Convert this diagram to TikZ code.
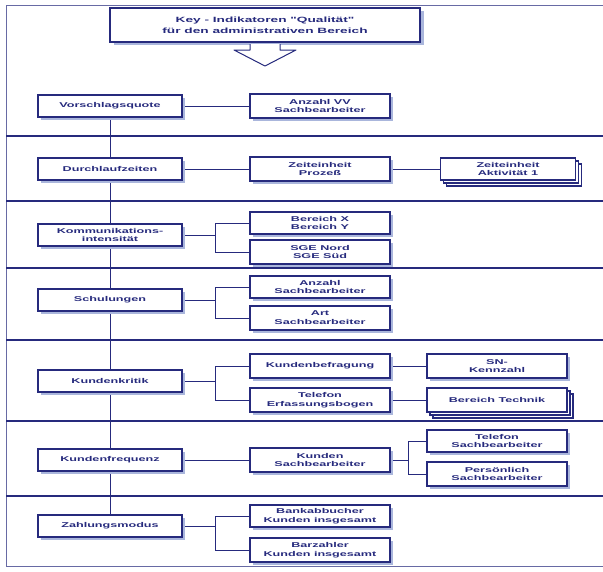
\documentclass[tikz,border=0pt]{standalone}
\usepackage{fontspec}
\setmainfont{Liberation Sans}
\newfontfamily\widefont[FakeStretch=1.8]{Liberation Sans}
\usetikzlibrary{shadows,backgrounds}
\definecolor{navy}{RGB}{38,42,125}
\definecolor{shade}{RGB}{170,182,220}
\tikzset{
  box/.style={draw=navy, line width=1.2pt, fill=white, text=navy,
    font=\widefont\bfseries\fontsize{7}{8.8}\selectfont, align=center,
    minimum width=140pt, minimum height=22pt, inner sep=1pt,
    drop shadow={shadow xshift=3pt, shadow yshift=-3pt, fill=shade, opacity=1}},
  leftbox/.style={box, minimum width=144pt},
  stackbox/.style={draw=navy, line width=1.2pt, fill=white, text=navy,
    font=\widefont\bfseries\fontsize{7}{8.8}\selectfont, align=center,
    minimum width=135pt, minimum height=22pt, inner sep=1pt,
    double copy shadow={shadow xshift=3pt, shadow yshift=-3pt}},
  titlebox/.style={draw=navy, line width=1.2pt, fill=white, text=navy,
    font=\widefont\bfseries\fontsize{7.6}{11}\selectfont, align=center,
    minimum width=310pt, minimum height=34pt, inner sep=1pt,
    drop shadow={shadow xshift=4pt, shadow yshift=-3pt, fill=shade, opacity=1}},
  sep/.style={navy, line width=1.6pt},
  frame/.style={navy!70, line width=0.9pt},
  link/.style={navy, line width=1pt},
  spine/.style={navy, line width=1pt}
}
\begin{document}
\begin{tikzpicture}[x=1pt,y=-1pt]
\useasboundingbox (0,0) rectangle (603,571);

% outer frame and row separators
\draw[frame] (603,5) -- (6,5) -- (6,566) -- (603,566);
\foreach \yy in {136,201,268,340,421,496}
  \draw[sep] (6,\yy) -- (603,\yy);

% heading and arrow
\node[titlebox] (title) at (265,25) {Key - Indikatoren "Qualität"\\für den administrativen Bereich};
\draw[navy, line width=1pt, fill=white, line join=round]
  (250,44) -- (250,50) -- (234,50) -- (265,66) -- (296,50) -- (280,50) -- (280,44);

% branch columns
\coordinate (brA) at (215,0);
\coordinate (brB) at (408,0);

% left column
\node[leftbox] (vq) at (110,106) {Vorschlagsquote};
\node[leftbox] (dl) at (110,169) {Durchlaufzeiten};
\node[leftbox] (ki) at (110,235) {Kommunikations-\\intensität};
\node[leftbox] (sc) at (110,300) {Schulungen};
\node[leftbox] (kk) at (110,381) {Kundenkritik};
\node[leftbox] (kf) at (110,460) {Kundenfrequenz};
\node[leftbox] (zm) at (110,526) {Zahlungsmodus};

% middle column
\node[box, minimum height=24pt] (av) at (320,106) {Anzahl VV\\Sachbearbeiter};
\node[box, minimum height=24pt] (zp) at (320,169) {Zeiteinheit\\Prozeß};
\node[box] (bx) at (320,223) {Bereich X\\Bereich Y};
\node[box, minimum height=24pt] (sg) at (320,252) {SGE Nord\\SGE Süd};
\node[box] (as) at (320,287) {Anzahl\\Sachbearbeiter};
\node[box, minimum height=24pt] (ar) at (320,318) {Art\\Sachbearbeiter};
\node[box, minimum height=24pt] (kb) at (320,366) {Kundenbefragung};
\node[box, minimum height=24pt] (tf) at (320,400) {Telefon\\Erfassungsbogen};
\node[box, minimum height=24pt] (ks) at (320,460) {Kunden\\Sachbearbeiter};
\node[box] (bb) at (320,516) {Bankabbucher\\Kunden insgesamt};
\node[box, minimum height=24pt] (bz) at (320,550) {Barzahler\\Kunden insgesamt};

% right column
\node[stackbox] (za) at (508,169) {Zeiteinheit\\Aktivität 1};
\node[box, minimum height=24pt] (sn) at (497,366) {SN-\\Kennzahl};
\node[stackbox, minimum width=140pt, minimum height=24pt] (bt) at (497,400) {Bereich Technik};
\node[box] (ts) at (497,441) {Telefon\\Sachbearbeiter};
\node[box, minimum height=24pt] (ps) at (497,474) {Persönlich\\Sachbearbeiter};

% connectors
\begin{scope}[on background layer]
  \draw[spine] (vq.south) -- (zm.north);
  \draw[link] (vq.east) -- (av.west);
  \draw[link] (dl.east) -- (zp.west);
  \draw[link] (zp.east) -- (za.west);
  \draw[link] (ki.east) -- (ki.east -| brA);
  \draw[link] (bx.west) -| (brA |- sg.west) -- (sg.west);
  \draw[link] (sc.east) -- (sc.east -| brA);
  \draw[link] (as.west) -| (brA |- ar.west) -- (ar.west);
  \draw[link] (kk.east) -- (kk.east -| brA);
  \draw[link] (kb.west) -| (brA |- tf.west) -- (tf.west);
  \draw[link] (kb.east) -- (sn.west);
  \draw[link] (tf.east) -- (bt.west);
  \draw[link] (kf.east) -- (ks.west);
  \draw[link] (ks.east) -- (ks.east -| brB);
  \draw[link] (ts.west) -| (brB |- ps.west) -- (ps.west);
  \draw[link] (zm.east) -- (zm.east -| brA);
  \draw[link] (bb.west) -| (brA |- bz.west) -- (bz.west);
\end{scope}
\end{tikzpicture}
\end{document}
